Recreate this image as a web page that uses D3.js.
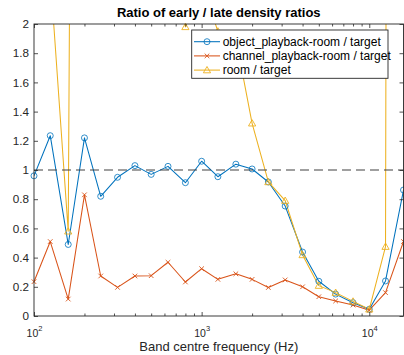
<!DOCTYPE html>
<html>
<head>
<meta charset="utf-8">
<script src="https://cdn.jsdelivr.net/npm/d3@7"></script>
<style>
  html, body { margin: 0; padding: 0; background: #fff; }
  svg { display: block; font-family: "Liberation Sans", Arial, Helvetica, sans-serif; }
</style>
</head>
<body>
<svg id="chart" width="404" height="355"></svg>
<script>
// ---- data ----
const freqs = [100,125,160,200,250,315,400,500,630,800,1000,1250,1600,2000,2500,3150,4000,5000,6300,8000,10000,12500,16000];
const objectRatio  = [0.96,1.235,0.49,1.22,0.82,0.95,1.03,0.97,1.025,0.913,1.06,0.954,1.04,1.007,0.918,0.753,0.438,0.238,0.15,0.091,0.046,0.24,0.863];
const channelRatio = [0.235,0.51,0.116,0.83,0.274,0.196,0.274,0.276,0.368,0.233,0.324,0.251,0.289,0.251,0.195,0.247,0.20,0.132,0.103,0.075,0.04,0.16,0.51];
const roomRatio    = [4.0,2.34,0.58,20,8,6,5,4,3,1.98,2.28,1.95,1.9,1.32,0.918,0.79,0.418,0.208,0.16,0.10,0.046,0.475,60];
const seriesNames  = ["object_playback-room / target","channel_playback-room / target","room / target"];
const yTicks = [0,0.2,0.4,0.6,0.8,1,1.2,1.4,1.6,1.8,2];
const xMajor = [100,1000,10000];
const referenceLevel = 1;
const titleText = "Ratio of early / late density ratios";
const xLabelText = "Band centre frequency (Hz)";

// ---- layout ----
const L = 34, R = 403.5, T = 24, B = 316;
const svg = d3.select("#chart");
const axisColor = "#262626";
const colors = ["#0072BD", "#D95319", "#EDB120"];

const x = d3.scaleLog().domain([100, 16000]).range([L, R]);
const y = d3.scaleLinear().domain([0, 2]).range([B, T]);

svg.append("defs").append("clipPath").attr("id", "clip")
  .append("rect").attr("x", L).attr("y", T).attr("width", R - L).attr("height", B - T);

// series
const series = [
  { name: seriesNames[0], values: objectRatio, color: colors[0], marker: "circle" },
  { name: seriesNames[1], values: channelRatio, color: colors[1], marker: "x" },
  { name: seriesNames[2], values: roomRatio, color: colors[2], marker: "tri" }
];

const line = d3.line().x((d) => x(d[0])).y((d) => y(d[1]));

function drawMarker(g, type, cx, cy, color) {
  if (type === "circle") {
    g.append("circle").attr("cx", cx).attr("cy", cy).attr("r", 3)
      .attr("fill", "none").attr("stroke", color).attr("stroke-width", 0.8);
  } else if (type === "x") {
    const s = 2.3;
    g.append("path").attr("d", `M${cx-s},${cy-s}L${cx+s},${cy+s}M${cx-s},${cy+s}L${cx+s},${cy-s}`)
      .attr("stroke", color).attr("stroke-width", 0.9).attr("fill", "none");
  } else {
    const h = 3.6;
    g.append("path").attr("d", `M${cx},${cy-h}L${cx+h},${cy+h*0.75}L${cx-h},${cy+h*0.75}Z`)
      .attr("stroke", color).attr("stroke-width", 0.9).attr("fill", "none");
  }
}

const plotG = svg.append("g");
series.forEach((s) => {
  const pts = freqs.map((f, i) => [f, s.values[i]]);
  plotG.append("path").attr("d", line(pts)).attr("clip-path", "url(#clip)")
    .attr("fill", "none").attr("stroke", s.color).attr("stroke-width", 1.05)
    .attr("stroke-linejoin", "round");
});
series.forEach((s) => {
  const mg = plotG.append("g");
  freqs.forEach((f, i) => {
    const v = s.values[i];
    if (v >= 0 && v <= 2) drawMarker(mg, s.marker, x(f), y(v), s.color);
  });
});

// reference dashed line
svg.append("line").attr("x1", L).attr("x2", R).attr("y1", y(referenceLevel)).attr("y2", y(referenceLevel))
  .attr("stroke", "#404040").attr("stroke-width", 1.2).attr("stroke-dasharray", "9,5");

// ---- axes ----
const xTicks = x.ticks();
function styleAxis(g) {
  g.select(".domain").remove();
  g.selectAll("line").attr("stroke", axisColor).attr("stroke-width", 0.8);
}
const xb = svg.append("g").attr("transform", `translate(0,${B})`)
  .call(d3.axisBottom(x).tickValues(xTicks).tickSize(-4).tickFormat(() => ""));
styleAxis(xb);
xb.selectAll(".tick").each(function(d) {
  const major = xMajor.includes(d);
  d3.select(this).select("line").attr("y2", major ? -4 : -2.5);
  if (major) {
    const t = d3.select(this).append("text").attr("y", 21).attr("fill", axisColor)
      .attr("text-anchor", "middle").attr("font-size", "10.5px");
    t.append("tspan").text("10");
    t.append("tspan").attr("dy", -6.5).attr("font-size", "7.5px").text(String(Math.round(Math.log10(d))));
  }
});
const xt = svg.append("g").attr("transform", `translate(0,${T})`)
  .call(d3.axisTop(x).tickValues(xTicks).tickSize(-4).tickFormat(() => ""));
styleAxis(xt);
xt.selectAll(".tick").each(function(d) {
  d3.select(this).select("line").attr("y2", xMajor.includes(d) ? 4 : 2.5);
});

const yl = svg.append("g").attr("transform", `translate(${L},0)`)
  .call(d3.axisLeft(y).tickValues(yTicks).tickSize(-4).tickPadding(5).tickFormat((d) => String(+d.toFixed(1))));
styleAxis(yl);
yl.selectAll("text").attr("font-size", "11.7px").attr("fill", axisColor).attr("font-family", null);
const yr = svg.append("g").attr("transform", `translate(${R},0)`)
  .call(d3.axisRight(y).tickValues(yTicks).tickSize(-4).tickFormat(() => ""));
styleAxis(yr);

// box
svg.append("rect").attr("x", L).attr("y", T).attr("width", R - L).attr("height", B - T)
  .attr("fill", "none").attr("stroke", axisColor).attr("stroke-width", 0.9);

// title & label
svg.append("text").attr("x", (L + R) / 2).attr("y", 17).attr("text-anchor", "middle")
  .attr("font-size", "13px").attr("font-weight", "bold").attr("fill", "#000").text(titleText);
svg.append("text").attr("x", (L + R) / 2).attr("y", 351).attr("text-anchor", "middle")
  .attr("font-size", "13px").attr("fill", axisColor).text(xLabelText);

// ---- legend ----
const lg = svg.append("g");
const lx = 191.7, ly = 30, lw = 196.3, lh = 48.3;
lg.append("rect").attr("x", lx).attr("y", ly).attr("width", lw).attr("height", lh)
  .attr("fill", "#fff").attr("stroke", axisColor).attr("stroke-width", 0.9);
series.forEach((s, i) => {
  const cy = 41.7 + i * 14.2;
  lg.append("line").attr("x1", 194).attr("x2", 220).attr("y1", cy).attr("y2", cy)
    .attr("stroke", s.color).attr("stroke-width", 1.05);
  drawMarker(lg, s.marker, 207, cy, s.color);
  lg.append("text").attr("x", 222.7).attr("y", cy + 4.2).attr("font-size", "12px")
    .attr("fill", "#000").text(s.name);
});
</script>
</body>
</html>
